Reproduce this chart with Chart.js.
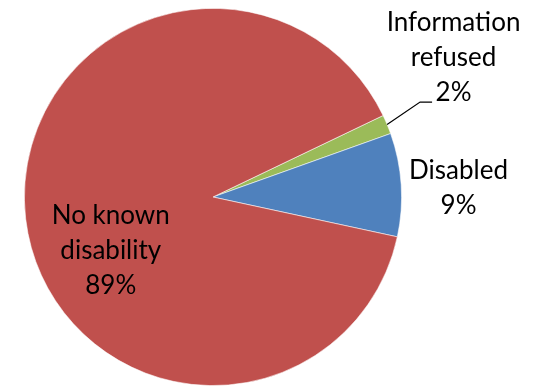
<!DOCTYPE html>
<html>
<head>
<meta charset="utf-8">
<script src="https://cdn.jsdelivr.net/npm/chart.js@4.4.1/dist/chart.umd.min.js"></script>
<style>
  html, body { margin: 0; padding: 0; background: #fff; }
  #wrap { width: 536px; height: 386px; }
</style>
</head>
<body>
<div id="wrap"><canvas id="myChart"></canvas></div>
<script>
const categories = ['Information refused', 'Disabled', 'No known disability'];
const shares = [1.65, 8.85, 89.5];
const percentLabels = ['2%', '9%', '89%'];
const labelLines = [['Information', 'refused'], ['Disabled'], ['No known', 'disability']];
const colours = ['#9BBB59', '#4F81BD', '#C0504D'];

// where each label block sits, relative to the pie centre (angle in degrees, distance in radii)
const labelPlace = [
  { angle: -28.55, dist: 1.452, leader: true },
  { angle: -0.19, dist: 1.302 },
  { angle: 148.75, dist: 0.634 }
];

const pieLabels = {
  id: 'pieLabels',
  afterDatasetsDraw(chart) {
    const c = chart.ctx;
    const arcs = chart.getDatasetMeta(0).data;
    const lineH = 35;
    c.save();
    c.font = '26px Lato';
    c.fillStyle = '#000';
    c.textAlign = 'center';
    c.textBaseline = 'alphabetic';
    arcs.forEach((arc, i) => {
      const p = labelPlace[i];
      const a = p.angle * Math.PI / 180;
      const r = arc.outerRadius;
      const cx = arc.x + Math.cos(a) * r * p.dist;
      const cy = arc.y + Math.sin(a) * r * p.dist;
      const lines = labelLines[i].concat([percentLabels[i]]);
      const first = cy - (lines.length - 1) * lineH / 2;
      lines.forEach((t, k) => c.fillText(t, cx, first + k * lineH));
      if (p.leader) {
        const mid = (arc.startAngle + arc.endAngle) / 2;
        const sx = arc.x + Math.cos(mid) * r;
        const sy = arc.y + Math.sin(mid) * r;
        const ey = first + (lines.length - 1) * lineH + 1;
        c.beginPath();
        c.strokeStyle = '#000';
        c.lineWidth = 1.2;
        c.moveTo(sx, sy);
        c.lineTo(sx + 33, ey);
        c.lineTo(sx + 45, ey);
        c.stroke();
      }
    });
    c.restore();
  }
};

new Chart(document.getElementById('myChart'), {
  type: 'pie',
  data: {
    labels: categories,
    datasets: [{
      data: shares,
      backgroundColor: colours,
      borderColor: 'rgba(255,255,255,0.7)',
      borderWidth: 0.8
    }]
  },
  options: {
    responsive: true,
    maintainAspectRatio: false,
    animation: false,
    rotation: 64.4,
    layout: { padding: { left: 24, right: 134, top: 8, bottom: 0 } },
    plugins: {
      legend: { display: false },
      tooltip: { enabled: false }
    }
  },
  plugins: [pieLabels]
});
</script>
</body>
</html>
